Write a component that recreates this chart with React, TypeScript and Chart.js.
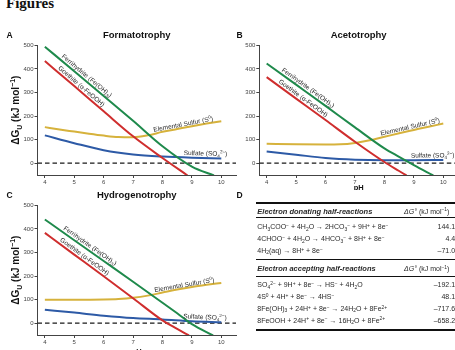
import { useEffect, useRef } from "react";
import { Chart, registerables } from "chart.js";

Chart.register(...registerables);

const FONT = '"Liberation Sans", Arial, Helvetica, sans-serif';

// Axes shared by the three panels
const phTicks = [4, 5, 6, 7, 8, 9, 10];
const dgTicks = [0, 100, 200, 300, 400, 500];
const phRange = [3.75, 10.5];
const dgRange = [-50, 500];

// A: Formatotrophy (ΔG in kJ per mol of electron donor reaction)
const formatoFerrihydritePh = [4, 5, 6, 7, 8, 9, 9.75];
const formatoFerrihydrite = [494, 390, 285, 180, 72, -14, -52];
const formatoGoethitePh = [4, 5, 6, 7, 8, 8.85];
const formatoGoethite = [433, 327, 220, 114, 22, -52];
const formatoSulfurPh = [4, 4.5, 5, 5.5, 6, 6.5, 7, 7.5, 8, 8.5, 9, 9.5, 10];
const formatoSulfur = [153, 143, 134, 125, 117, 111, 110, 118, 133, 145, 157, 168, 178];
const formatoSulfatePh = [4, 5, 6, 7, 8, 9, 10];
const formatoSulfate = [118, 85, 55, 37, 28, 23, 20];

// B: Acetotrophy
const acetoFerrihydritePh = [4, 5, 6, 7, 8, 8.5, 9, 9.66];
const acetoFerrihydrite = [423, 333, 243, 152, 63, 27, -8, -52];
const acetoGoethitePh = [4, 5, 6, 7, 8, 8.5, 8.75];
const acetoGoethite = [365, 274, 183, 91, 5, -33, -52];
const acetoSulfurPh = [4, 5, 6, 6.5, 7, 7.5, 8, 8.5, 9, 9.5, 10];
const acetoSulfur = [82, 80, 79, 80, 86, 97, 112, 127, 141, 155, 168];
const acetoSulfatePh = [4, 5, 6, 7, 8, 9, 10];
const acetoSulfate = [50, 36, 22, 15, 13, 13, 14];

// C: Hydrogenotrophy
const hydroFerrihydritePh = [4, 5, 6, 7, 8, 8.5, 9, 9.72];
const hydroFerrihydrite = [440, 352, 264, 176, 87, 42, -4, -52];
const hydroGoethitePh = [4, 5, 6, 7, 8, 8.5, 8.9];
const hydroGoethite = [383, 291, 199, 106, 12, -24, -52];
const hydroSulfurPh = [4, 5, 6, 6.5, 7, 7.5, 8, 8.5, 9, 9.5, 10];
const hydroSulfur = [100, 100, 101, 103, 108, 117, 130, 143, 154, 163, 171];
const hydroSulfatePh = [4, 5, 6, 7, 8, 9, 10];
const hydroSulfate = [57, 45, 32, 22, 16, 8, 4];

// D: half-reactions and standard free energies
const donatingReactions = [
  "CH_{3}COO^{−} + 4H_{2}O → 2HCO_{3}^{−} + 9H^{+} + 8e^{−}",
  "4CHOO^{−} + 4H_{2}O → 4HCO_{3}^{−} + 8H^{+} + 8e^{−}",
  "4H_{2}(aq) → 8H^{+} + 8e^{−}",
];
const donatingDeltaG = [144.18, 4.46, -71.06];
const acceptingReactions = [
  "SO_{4}^{2−} + 9H^{+} + 8e^{−} → HS^{−} + 4H_{2}O",
  "4S^{0} + 4H^{+} + 8e^{−} → 4HS^{−}",
  "8Fe(OH)_{3} + 24H^{+} + 8e^{−} → 24H_{2}O + 8Fe^{2+}",
  "8FeOOH + 24H^{+} + 8e^{−} → 16H_{2}O + 8Fe^{2+}",
];
const acceptingDeltaG = [-192.16, 48.17, -717.62, -658.25];

const GREEN = "#1f8a4c";
const RED = "#cf2e2e";
const GOLD = "#d6b23c";
const BLUE = "#2d5aa6";
const INK = "#2a2a2a";

type Seg = { t: string; k: "n" | "sub" | "sup" };

function parseRich(s: string): Seg[] {
  const out: Seg[] = [];
  const re = /([_^])\{([^}]*)\}/g;
  let last = 0;
  let m: RegExpExecArray | null;
  while ((m = re.exec(s))) {
    if (m.index > last) out.push({ t: s.slice(last, m.index), k: "n" });
    out.push({ t: m[2], k: m[1] === "_" ? "sub" : "sup" });
    last = re.lastIndex;
  }
  if (last < s.length) out.push({ t: s.slice(last), k: "n" });
  return out;
}

function drawRich(
  ctx: CanvasRenderingContext2D,
  text: string,
  x: number,
  y: number,
  size: number,
  weight: string,
  align: "left" | "center"
) {
  const segs = parseRich(text);
  const fontFor = (k: string) => `${weight} ${k === "n" ? size : size * 0.7}px ${FONT}`;
  let w = 0;
  for (const s of segs) {
    ctx.font = fontFor(s.k);
    w += ctx.measureText(s.t).width;
  }
  let cx = align === "center" ? x - w / 2 : x;
  ctx.textAlign = "left";
  ctx.textBaseline = "alphabetic";
  for (const s of segs) {
    ctx.font = fontFor(s.k);
    const dy = s.k === "sub" ? size * 0.25 : s.k === "sup" ? -size * 0.4 : 0;
    ctx.fillText(s.t, cx, y + dy);
    cx += ctx.measureText(s.t).width;
  }
}

function valueAt(ph: number[], dg: number[], x: number) {
  for (let i = 0; i < ph.length - 1; i++) {
    if (x >= ph[i] && x <= ph[i + 1]) {
      const t = (x - ph[i]) / (ph[i + 1] - ph[i]);
      return dg[i] + t * (dg[i + 1] - dg[i]);
    }
  }
  return x < ph[0] ? dg[0] : dg[dg.length - 1];
}

interface Curve {
  ph: number[];
  dg: number[];
  color: string;
  name: string;
  from: number;
  to: number;
  gap: number;
}

interface Box { left: number; top: number; width: number; height: number }
interface Area { left: number; top: number; right: number; bottom: number }

interface PanelDef {
  letter: string;
  title: string;
  box: Box;
  area: Area;
  letterX: number;
  titleY: number;
  yTitleX?: number;
  xTitleY?: number;
  curves: Curve[];
}

function curves(
  fe: [number[], number[]],
  go: [number[], number[]],
  su: [number[], number[]],
  so: [number[], number[]],
  starts: number[]
): Curve[] {
  return [
    { ph: fe[0], dg: fe[1], color: GREEN, name: "Ferrihydrite (Fe(OH)_{3})", from: starts[0], to: starts[0] + 1.5, gap: 2.5 },
    { ph: go[0], dg: go[1], color: RED, name: "Goethite (α-FeOOH)", from: starts[1], to: starts[1] + 1.5, gap: 2.5 },
    { ph: su[0], dg: su[1], color: GOLD, name: "Elemental Sulfur (S^{0})", from: starts[2], to: 9.85, gap: 2 },
    { ph: so[0], dg: so[1], color: BLUE, name: "Sulfate (SO_{4}^{2−})", from: starts[3], to: 10, gap: 2.5 },
  ];
}

const panels: PanelDef[] = [
  {
    letter: "A",
    title: "Formatotrophy",
    box: { left: 0, top: 20, width: 240, height: 170 },
    area: { left: 37.5, top: 45.3, right: 236, bottom: 175 },
    letterX: 6.5,
    titleY: 38,
    yTitleX: 19,
    curves: curves(
      [formatoFerrihydritePh, formatoFerrihydrite],
      [formatoGoethitePh, formatoGoethite],
      [formatoSulfurPh, formatoSulfur],
      [formatoSulfatePh, formatoSulfate],
      [4.5, 4.38, 7.72, 8.72]
    ),
  },
  {
    letter: "B",
    title: "Acetotrophy",
    box: { left: 228, top: 20, width: 240, height: 170 },
    area: { left: 259.3, top: 45.3, right: 458, bottom: 175 },
    letterX: 236.5,
    titleY: 38,
    xTitleY: 190,
    curves: curves(
      [acetoFerrihydritePh, acetoFerrihydrite],
      [acetoGoethitePh, acetoGoethite],
      [acetoSulfurPh, acetoSulfur],
      [acetoSulfatePh, acetoSulfate],
      [4.45, 4.34, 7.9, 8.9]
    ),
  },
  {
    letter: "C",
    title: "Hydrogenotrophy",
    box: { left: 0, top: 180, width: 240, height: 170 },
    area: { left: 37.5, top: 205.3, right: 236, bottom: 335 },
    letterX: 6.5,
    titleY: 198,
    yTitleX: 19,
    xTitleY: 354,
    curves: curves(
      [hydroFerrihydritePh, hydroFerrihydrite],
      [hydroGoethitePh, hydroGoethite],
      [hydroSulfurPh, hydroSulfur],
      [hydroSulfatePh, hydroSulfate],
      [4.57, 4.45, 7.75, 8.7]
    ),
  },
];

function decorPlugin(p: PanelDef) {
  return {
    id: "panelDecor",
    beforeDatasetsDraw(chart: any) {
      const { ctx, chartArea, scales } = chart;
      const y0 = scales.y.getPixelForValue(0);
      ctx.save();
      ctx.strokeStyle = "#1a1a1a";
      ctx.lineWidth = 1.2;
      ctx.setLineDash([4.5, 3]);
      ctx.beginPath();
      ctx.moveTo(chartArea.left, y0);
      ctx.lineTo(chartArea.right, y0);
      ctx.stroke();
      ctx.restore();
    },
    afterDraw(chart: any) {
      const { ctx, chartArea, scales } = chart;
      const ox = p.box.left;
      const oy = p.box.top;
      ctx.save();
      ctx.fillStyle = "#111";
      drawRich(ctx, p.letter, p.letterX - ox, p.titleY - oy, 8.5, "bold", "left");
      drawRich(ctx, p.title, (chartArea.left + chartArea.right) / 2, p.titleY - oy, 9.5, "bold", "center");
      if (p.yTitleX !== undefined) {
        ctx.save();
        ctx.translate(p.yTitleX - ox, (chartArea.top + chartArea.bottom) / 2);
        ctx.rotate(-Math.PI / 2);
        drawRich(ctx, "ΔG_{U} (kJ mol^{−1})", 0, 0, 10, "bold", "center");
        ctx.restore();
      }
      if (p.xTitleY !== undefined) {
        drawRich(ctx, "pH", (chartArea.left + chartArea.right) / 2, p.xTitleY - oy, 7.5, "bold", "center");
      }
      ctx.fillStyle = INK;
      for (const c of p.curves) {
        const x0 = scales.x.getPixelForValue(c.from);
        const y0 = scales.y.getPixelForValue(valueAt(c.ph, c.dg, c.from));
        const x1 = scales.x.getPixelForValue(c.to);
        const y1 = scales.y.getPixelForValue(valueAt(c.ph, c.dg, c.to));
        const a = Math.atan2(y1 - y0, x1 - x0);
        ctx.save();
        ctx.translate(x0 + Math.sin(a) * c.gap, y0 - Math.cos(a) * c.gap);
        ctx.rotate(a);
        drawRich(ctx, c.name, 0, 0, 6.5, "normal", "left");
        ctx.restore();
      }
      ctx.restore();
    },
  };
}

function Panel({ p }: { p: PanelDef }) {
  const ref = useRef<HTMLCanvasElement>(null);
  useEffect(() => {
    const axisCommon = {
      type: "linear" as const,
      bounds: "data" as const,
      grid: { drawOnChartArea: false, drawTicks: true, tickLength: 3, color: "#444", lineWidth: 1 },
      border: { display: true, color: "#444", width: 1 },
      ticks: { font: { size: 6, family: FONT }, color: "#444", padding: 1, autoSkip: false, maxRotation: 0 },
    };
    const chart = new Chart(ref.current!, {
      type: "line",
      data: {
        datasets: p.curves.map((c) => ({
          label: c.name,
          data: c.ph.map((x, i) => ({ x, y: c.dg[i] })),
          borderColor: c.color,
          backgroundColor: c.color,
          borderWidth: 2,
          pointRadius: 0,
          cubicInterpolationMode: "monotone" as const,
          fill: false,
        })),
      },
      options: {
        responsive: false,
        animation: false,
        devicePixelRatio: 1,
        layout: {
          padding: {
            left: 0,
            bottom: 0,
            top: p.area.top - p.box.top,
            right: p.box.left + p.box.width - p.area.right,
          },
        },
        plugins: { legend: { display: false }, tooltip: { enabled: false }, title: { display: false } },
        scales: {
          x: {
            ...axisCommon,
            min: phRange[0],
            max: phRange[1],
            afterBuildTicks: (s: any) => {
              s.ticks = phTicks.map((v) => ({ value: v }));
            },
            afterFit: (s: any) => {
              s.height = p.box.top + p.box.height - p.area.bottom;
            },
          },
          y: {
            ...axisCommon,
            min: dgRange[0],
            max: dgRange[1],
            afterBuildTicks: (s: any) => {
              s.ticks = dgTicks.map((v) => ({ value: v }));
            },
            afterFit: (s: any) => {
              s.width = p.area.left - p.box.left;
            },
          },
        },
      },
      plugins: [decorPlugin(p)],
    });
    return () => chart.destroy();
  }, []);
  return (
    <canvas
      ref={ref}
      width={p.box.width}
      height={p.box.height}
      style={{ position: "absolute", left: p.box.left, top: p.box.top, width: p.box.width, height: p.box.height }}
    />
  );
}

function Rich({ text }: { text: string }) {
  return (
    <>
      {parseRich(text).map((s, i) =>
        s.k === "n" ? (
          <span key={i}>{s.t}</span>
        ) : (
          <span
            key={i}
            style={{ fontSize: "0.7em", position: "relative", top: s.k === "sub" ? "0.3em" : "-0.45em" }}
          >
            {s.t}
          </span>
        )
      )}
    </>
  );
}

const fmt = (v: number) => (v < 0 ? "–" + Math.abs(v).toFixed(2) : v.toFixed(2));

const TL = 255.7;
const TR = 460;

function Rule({ y, h }: { y: number; h: number }) {
  return <div style={{ position: "absolute", left: TL, width: TR - TL, top: y - h / 2, height: h, background: "#111" }} />;
}

function Row({ y, left, right, header }: { y: number; left: string; right: string; header?: boolean }) {
  const base = {
    position: "absolute" as const,
    top: y - 5,
    height: 10,
    lineHeight: "10px",
    fontFamily: FONT,
    color: INK,
    whiteSpace: "nowrap" as const,
  };
  return (
    <>
      <div style={{ ...base, left: TL + 1.6, fontSize: header ? 7.5 : 7, fontWeight: header ? "bold" : "normal", fontStyle: header ? "italic" : "normal" }}>
        <Rich text={left} />
      </div>
      {header ? (
        <div style={{ ...base, left: 404, fontSize: 7 }}>
          <i>ΔG°</i> (kJ mol<Rich text="^{−1}" />)
        </div>
      ) : (
        <div style={{ ...base, right: 455 - 459, fontSize: 7, textAlign: "right" }}>{right}</div>
      )}
    </>
  );
}

function ReactionTable() {
  const donY = [227.3, 239.3, 251];
  const accY = [285.3, 297.3, 309, 320.7];
  return (
    <>
      <div style={{ position: "absolute", left: 236.5, top: 190, fontFamily: FONT, fontWeight: "bold", fontSize: 8.5, lineHeight: "10px", color: "#111" }}>D</div>
      <Rule y={203.3} h={1.8} />
      <Row y={211.5} left="Electron donating half-reactions" right="" header />
      <Rule y={217.7} h={0.9} />
      {donatingReactions.map((r, i) => (
        <Row key={r} y={donY[i]} left={r} right={fmt(donatingDeltaG[i])} />
      ))}
      <Rule y={259.3} h={1.5} />
      <Row y={269.3} left="Electron accepting half-reactions" right="" header />
      <Rule y={276} h={0.9} />
      {acceptingReactions.map((r, i) => (
        <Row key={r} y={accY[i]} left={r} right={fmt(acceptingDeltaG[i])} />
      ))}
      <Rule y={330} h={1.2} />
    </>
  );
}

export default function App() {
  return (
    <div
      style={{
        position: "fixed",
        left: 0,
        top: 0,
        width: 455,
        height: 350,
        overflow: "hidden",
        background: "#fff",
      }}
    >
      <div
        style={{
          position: "absolute",
          left: 6,
          top: -4.5,
          fontFamily: '"Liberation Serif", "Times New Roman", serif',
          fontWeight: "bold",
          fontSize: 15,
          lineHeight: "15px",
          color: "#111",
        }}
      >
        Figures
      </div>
      {panels.map((p) => (
        <Panel key={p.letter} p={p} />
      ))}
      <ReactionTable />
    </div>
  );
}
